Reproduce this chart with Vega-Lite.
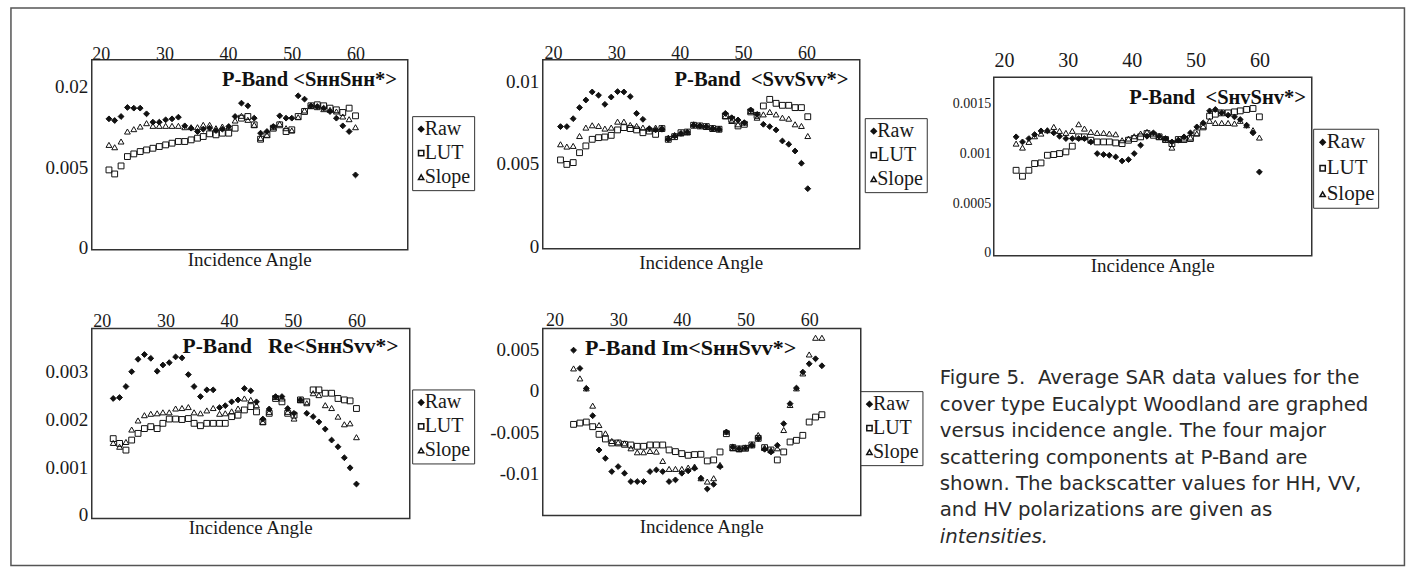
{
"$schema":"https://vega.github.io/schema/vega-lite/v6.json",
"background":"white",
"padding":{"left":9.75,"top":6.75,"right":4,"bottom":4},
"config":{
 "view":{"stroke":"#333","strokeWidth":1.5},
 "font":"Liberation Serif",
 "axis":{"grid":false,"domain":false,"ticks":false,"labelFont":"Liberation Serif","labelColor":"#1a1a1a","labelFontSize":19,"labelOverlap":false},
 "legend":{"orient":"none","strokeColor":"#333","padding":3,"labelFont":"Liberation Serif","labelFontSize":20,"labelColor":"#1a1a1a","symbolSize":28,"rowPadding":4,"labelOffset":-6.5,"symbolOffset":-4,"fillColor":"white"},
 "title":{"font":"Liberation Serif","fontSize":19,"fontWeight":"normal","color":"#1a1a1a"}
},
"datasets":{
"p1":[
{"s":"Raw","a":21.3,"v":0.01334},{"s":"Raw","a":22.2,"v":0.013},{"s":"Raw","a":23.2,"v":0.01382},{"s":"Raw","a":24.2,"v":0.01576},{"s":"Raw","a":25.2,"v":0.01561},{"s":"Raw","a":26.2,"v":0.01561},{"s":"Raw","a":27.2,"v":0.01438},{"s":"Raw","a":28.2,"v":0.01267},{"s":"Raw","a":29.2,"v":0.01267},{"s":"Raw","a":30.2,"v":0.01314},{"s":"Raw","a":31.2,"v":0.01334},{"s":"Raw","a":32.2,"v":0.01368},{"s":"Raw","a":33.2,"v":0.01195},{"s":"Raw","a":34.2,"v":0.0115},{"s":"Raw","a":35.2,"v":0.01088},{"s":"Raw","a":36.1,"v":0.01132},{"s":"Raw","a":37.1,"v":0.0115},{"s":"Raw","a":38.1,"v":0.01107},{"s":"Raw","a":39.1,"v":0.01132},{"s":"Raw","a":40.1,"v":0.01182},{"s":"Raw","a":41.1,"v":0.01382},{"s":"Raw","a":42.1,"v":0.01673},{"s":"Raw","a":43.1,"v":0.01613},{"s":"Raw","a":44.1,"v":0.01348},{"s":"Raw","a":45.1,"v":0.01058},{"s":"Raw","a":46.1,"v":0.01088},{"s":"Raw","a":47.1,"v":0.01182},{"s":"Raw","a":48.1,"v":0.01396},{"s":"Raw","a":49.1,"v":0.01348},{"s":"Raw","a":50.0,"v":0.01348},{"s":"Raw","a":51.0,"v":0.01845},{"s":"Raw","a":52.0,"v":0.01766},{"s":"Raw","a":53.0,"v":0.01613},{"s":"Raw","a":54.0,"v":0.01598},{"s":"Raw","a":55.0,"v":0.01561},{"s":"Raw","a":56.0,"v":0.01488},{"s":"Raw","a":57.0,"v":0.01348},{"s":"Raw","a":58.0,"v":0.01195},{"s":"Raw","a":59.0,"v":0.01088},{"s":"Raw","a":60.0,"v":0.00436},
{"s":"LUT","a":21.3,"v":0.00496},{"s":"LUT","a":22.2,"v":0.00447},{"s":"LUT","a":23.2,"v":0.00547},{"s":"LUT","a":24.2,"v":0.00676},{"s":"LUT","a":25.2,"v":0.00715},{"s":"LUT","a":26.2,"v":0.00751},{"s":"LUT","a":27.2,"v":0.00776},{"s":"LUT","a":28.2,"v":0.00802},{"s":"LUT","a":29.2,"v":0.00829},{"s":"LUT","a":30.2,"v":0.00856},{"s":"LUT","a":31.2,"v":0.00884},{"s":"LUT","a":32.2,"v":0.00912},{"s":"LUT","a":33.2,"v":0.00912},{"s":"LUT","a":34.2,"v":0.0094},{"s":"LUT","a":35.2,"v":0.00969},{"s":"LUT","a":36.1,"v":0.00998},{"s":"LUT","a":37.1,"v":0.01046},{"s":"LUT","a":38.1,"v":0.01028},{"s":"LUT","a":39.1,"v":0.01058},{"s":"LUT","a":40.1,"v":0.01058},{"s":"LUT","a":41.1,"v":0.0115},{"s":"LUT","a":42.1,"v":0.01348},{"s":"LUT","a":43.1,"v":0.01382},{"s":"LUT","a":44.1,"v":0.01215},{"s":"LUT","a":45.1,"v":0.00951},{"s":"LUT","a":46.1,"v":0.01028},{"s":"LUT","a":47.1,"v":0.0115},{"s":"LUT","a":48.1,"v":0.01215},{"s":"LUT","a":49.1,"v":0.01088},{"s":"LUT","a":50.0,"v":0.0112},{"s":"LUT","a":51.0,"v":0.01382},{"s":"LUT","a":52.0,"v":0.01488},{"s":"LUT","a":53.0,"v":0.01613},{"s":"LUT","a":54.0,"v":0.01636},{"s":"LUT","a":55.0,"v":0.01613},{"s":"LUT","a":56.0,"v":0.01561},{"s":"LUT","a":57.0,"v":0.01524},{"s":"LUT","a":58.0,"v":0.01467},{"s":"LUT","a":59.0,"v":0.01561},{"s":"LUT","a":60.0,"v":0.01396},
{"s":"Slope","a":21.3,"v":0.00856},{"s":"Slope","a":22.2,"v":0.00818},{"s":"Slope","a":23.2,"v":0.00912},{"s":"Slope","a":24.2,"v":0.01088},{"s":"Slope","a":25.2,"v":0.01132},{"s":"Slope","a":26.2,"v":0.01182},{"s":"Slope","a":27.2,"v":0.01247},{"s":"Slope","a":28.2,"v":0.01195},{"s":"Slope","a":29.2,"v":0.01195},{"s":"Slope","a":30.2,"v":0.01195},{"s":"Slope","a":31.2,"v":0.01195},{"s":"Slope","a":32.2,"v":0.01195},{"s":"Slope","a":33.2,"v":0.01169},{"s":"Slope","a":34.2,"v":0.01169},{"s":"Slope","a":35.2,"v":0.01169},{"s":"Slope","a":36.1,"v":0.01215},{"s":"Slope","a":37.1,"v":0.01215},{"s":"Slope","a":38.1,"v":0.0115},{"s":"Slope","a":39.1,"v":0.01182},{"s":"Slope","a":40.1,"v":0.01169},{"s":"Slope","a":41.1,"v":0.013},{"s":"Slope","a":42.1,"v":0.01396},{"s":"Slope","a":43.1,"v":0.01314},{"s":"Slope","a":44.1,"v":0.01215},{"s":"Slope","a":45.1,"v":0.00969},{"s":"Slope","a":46.1,"v":0.01028},{"s":"Slope","a":47.1,"v":0.01169},{"s":"Slope","a":48.1,"v":0.01234},{"s":"Slope","a":49.1,"v":0.0115},{"s":"Slope","a":50.0,"v":0.01107},{"s":"Slope","a":51.0,"v":0.01368},{"s":"Slope","a":52.0,"v":0.0151},{"s":"Slope","a":53.0,"v":0.01613},{"s":"Slope","a":54.0,"v":0.01583},{"s":"Slope","a":55.0,"v":0.01539},{"s":"Slope","a":56.0,"v":0.01524},{"s":"Slope","a":57.0,"v":0.01488},{"s":"Slope","a":58.0,"v":0.01382},{"s":"Slope","a":59.0,"v":0.01327},{"s":"Slope","a":60.0,"v":0.01169}
],
"p2":[
{"s":"Raw","a":21.2,"v":0.0074},{"s":"Raw","a":22.2,"v":0.0074},{"s":"Raw","a":23.2,"v":0.00788},{"s":"Raw","a":24.2,"v":0.00855},{"s":"Raw","a":25.2,"v":0.00901},{"s":"Raw","a":26.2,"v":0.0095},{"s":"Raw","a":27.2,"v":0.0093},{"s":"Raw","a":28.2,"v":0.00875},{"s":"Raw","a":29.2,"v":0.00919},{"s":"Raw","a":30.2,"v":0.00952},{"s":"Raw","a":31.2,"v":0.0095},{"s":"Raw","a":32.2,"v":0.00922},{"s":"Raw","a":33.2,"v":0.0082},{"s":"Raw","a":34.2,"v":0.00784},{"s":"Raw","a":35.2,"v":0.00728},{"s":"Raw","a":36.2,"v":0.0072},{"s":"Raw","a":37.2,"v":0.00724},{"s":"Raw","a":38.2,"v":0.00663},{"s":"Raw","a":39.2,"v":0.00683},{"s":"Raw","a":40.2,"v":0.00699},{"s":"Raw","a":41.2,"v":0.00707},{"s":"Raw","a":42.2,"v":0.00748},{"s":"Raw","a":43.2,"v":0.00744},{"s":"Raw","a":44.2,"v":0.0074},{"s":"Raw","a":45.2,"v":0.00728},{"s":"Raw","a":46.2,"v":0.00724},{"s":"Raw","a":47.2,"v":0.0082},{"s":"Raw","a":48.2,"v":0.00794},{"s":"Raw","a":49.2,"v":0.0078},{"s":"Raw","a":50.2,"v":0.00764},{"s":"Raw","a":51.2,"v":0.00841},{"s":"Raw","a":52.2,"v":0.00814},{"s":"Raw","a":53.2,"v":0.00754},{"s":"Raw","a":54.2,"v":0.0074},{"s":"Raw","a":55.2,"v":0.0072},{"s":"Raw","a":56.2,"v":0.00653},{"s":"Raw","a":57.2,"v":0.00633},{"s":"Raw","a":58.2,"v":0.00592},{"s":"Raw","a":59.2,"v":0.00518},{"s":"Raw","a":60.2,"v":0.00364},
{"s":"LUT","a":21.2,"v":0.00538},{"s":"LUT","a":22.2,"v":0.00511},{"s":"LUT","a":23.2,"v":0.00522},{"s":"LUT","a":24.2,"v":0.00582},{"s":"LUT","a":25.2,"v":0.00623},{"s":"LUT","a":26.2,"v":0.00663},{"s":"LUT","a":27.2,"v":0.00673},{"s":"LUT","a":28.2,"v":0.00677},{"s":"LUT","a":29.2,"v":0.00687},{"s":"LUT","a":30.2,"v":0.0072},{"s":"LUT","a":31.2,"v":0.00734},{"s":"LUT","a":32.2,"v":0.00728},{"s":"LUT","a":33.2,"v":0.0072},{"s":"LUT","a":34.2,"v":0.00703},{"s":"LUT","a":35.2,"v":0.00713},{"s":"LUT","a":36.2,"v":0.00693},{"s":"LUT","a":37.2,"v":0.00728},{"s":"LUT","a":38.2,"v":0.00663},{"s":"LUT","a":39.2,"v":0.00679},{"s":"LUT","a":40.2,"v":0.00703},{"s":"LUT","a":41.2,"v":0.00707},{"s":"LUT","a":42.2,"v":0.00748},{"s":"LUT","a":43.2,"v":0.00744},{"s":"LUT","a":44.2,"v":0.0074},{"s":"LUT","a":45.2,"v":0.00728},{"s":"LUT","a":46.2,"v":0.00724},{"s":"LUT","a":47.2,"v":0.00804},{"s":"LUT","a":48.2,"v":0.00784},{"s":"LUT","a":49.2,"v":0.00744},{"s":"LUT","a":50.2,"v":0.00754},{"s":"LUT","a":51.2,"v":0.00829},{"s":"LUT","a":52.2,"v":0.00808},{"s":"LUT","a":53.2,"v":0.00865},{"s":"LUT","a":54.2,"v":0.00905},{"s":"LUT","a":55.2,"v":0.00881},{"s":"LUT","a":56.2,"v":0.00869},{"s":"LUT","a":57.2,"v":0.00869},{"s":"LUT","a":58.2,"v":0.00855},{"s":"LUT","a":59.2,"v":0.00855},{"s":"LUT","a":60.2,"v":0.008},
{"s":"Slope","a":21.2,"v":0.00633},{"s":"Slope","a":22.2,"v":0.00619},{"s":"Slope","a":23.2,"v":0.00623},{"s":"Slope","a":24.2,"v":0.00683},{"s":"Slope","a":25.2,"v":0.00734},{"s":"Slope","a":26.2,"v":0.00748},{"s":"Slope","a":27.2,"v":0.00744},{"s":"Slope","a":28.2,"v":0.00728},{"s":"Slope","a":29.2,"v":0.00734},{"s":"Slope","a":30.2,"v":0.0077},{"s":"Slope","a":31.2,"v":0.0077},{"s":"Slope","a":32.2,"v":0.0075},{"s":"Slope","a":33.2,"v":0.00744},{"s":"Slope","a":34.2,"v":0.00734},{"s":"Slope","a":35.2,"v":0.00728},{"s":"Slope","a":36.2,"v":0.00734},{"s":"Slope","a":37.2,"v":0.00734},{"s":"Slope","a":38.2,"v":0.00673},{"s":"Slope","a":39.2,"v":0.00689},{"s":"Slope","a":40.2,"v":0.00699},{"s":"Slope","a":41.2,"v":0.00707},{"s":"Slope","a":42.2,"v":0.00754},{"s":"Slope","a":43.2,"v":0.00748},{"s":"Slope","a":44.2,"v":0.0074},{"s":"Slope","a":45.2,"v":0.00734},{"s":"Slope","a":46.2,"v":0.00728},{"s":"Slope","a":47.2,"v":0.00804},{"s":"Slope","a":48.2,"v":0.00774},{"s":"Slope","a":49.2,"v":0.00754},{"s":"Slope","a":50.2,"v":0.00764},{"s":"Slope","a":51.2,"v":0.00835},{"s":"Slope","a":52.2,"v":0.00794},{"s":"Slope","a":53.2,"v":0.00814},{"s":"Slope","a":54.2,"v":0.00829},{"s":"Slope","a":55.2,"v":0.00814},{"s":"Slope","a":56.2,"v":0.00794},{"s":"Slope","a":57.2,"v":0.00788},{"s":"Slope","a":58.2,"v":0.00754},{"s":"Slope","a":59.2,"v":0.00744},{"s":"Slope","a":60.2,"v":0.00683}
],
"p3":[
{"s":"Raw","a":21.9,"v":0.001195},{"s":"Raw","a":22.9,"v":0.001144},{"s":"Raw","a":23.9,"v":0.001178},{"s":"Raw","a":24.8,"v":0.001218},{"s":"Raw","a":25.8,"v":0.001255},{"s":"Raw","a":26.8,"v":0.001255},{"s":"Raw","a":27.8,"v":0.001235},{"s":"Raw","a":28.7,"v":0.001201},{"s":"Raw","a":29.7,"v":0.001178},{"s":"Raw","a":30.7,"v":0.001178},{"s":"Raw","a":31.7,"v":0.001178},{"s":"Raw","a":32.6,"v":0.001178},{"s":"Raw","a":33.6,"v":0.001144},{"s":"Raw","a":34.6,"v":0.001027},{"s":"Raw","a":35.6,"v":0.001017},{"s":"Raw","a":36.5,"v":0.00101},{"s":"Raw","a":37.5,"v":0.000993},{"s":"Raw","a":38.5,"v":0.000953},{"s":"Raw","a":39.5,"v":0.000966},{"s":"Raw","a":40.4,"v":0.001027},{"s":"Raw","a":41.4,"v":0.001111},{"s":"Raw","a":42.4,"v":0.001201},{"s":"Raw","a":43.4,"v":0.001235},{"s":"Raw","a":44.3,"v":0.001201},{"s":"Raw","a":45.3,"v":0.001178},{"s":"Raw","a":46.3,"v":0.001144},{"s":"Raw","a":47.3,"v":0.001161},{"s":"Raw","a":48.2,"v":0.001195},{"s":"Raw","a":49.2,"v":0.001235},{"s":"Raw","a":50.2,"v":0.001295},{"s":"Raw","a":51.2,"v":0.001335},{"s":"Raw","a":52.2,"v":0.001456},{"s":"Raw","a":53.1,"v":0.00147},{"s":"Raw","a":54.1,"v":0.001436},{"s":"Raw","a":55.1,"v":0.001413},{"s":"Raw","a":56.1,"v":0.001396},{"s":"Raw","a":57.0,"v":0.001369},{"s":"Raw","a":58.0,"v":0.001312},{"s":"Raw","a":59.0,"v":0.001235},{"s":"Raw","a":60.0,"v":0.000842},
{"s":"LUT","a":21.9,"v":0.000859},{"s":"LUT","a":22.9,"v":0.000799},{"s":"LUT","a":23.9,"v":0.000859},{"s":"LUT","a":24.8,"v":0.000926},{"s":"LUT","a":25.8,"v":0.000933},{"s":"LUT","a":26.8,"v":0.00101},{"s":"LUT","a":27.8,"v":0.001017},{"s":"LUT","a":28.7,"v":0.001027},{"s":"LUT","a":29.7,"v":0.001044},{"s":"LUT","a":30.7,"v":0.001101},{"s":"LUT","a":31.7,"v":0.001195},{"s":"LUT","a":32.6,"v":0.001195},{"s":"LUT","a":33.6,"v":0.001161},{"s":"LUT","a":34.6,"v":0.001144},{"s":"LUT","a":35.6,"v":0.001144},{"s":"LUT","a":36.5,"v":0.001144},{"s":"LUT","a":37.5,"v":0.001134},{"s":"LUT","a":38.5,"v":0.001127},{"s":"LUT","a":39.5,"v":0.001161},{"s":"LUT","a":40.4,"v":0.001178},{"s":"LUT","a":41.4,"v":0.001195},{"s":"LUT","a":42.4,"v":0.001228},{"s":"LUT","a":43.4,"v":0.001211},{"s":"LUT","a":44.3,"v":0.001195},{"s":"LUT","a":45.3,"v":0.001168},{"s":"LUT","a":46.3,"v":0.001127},{"s":"LUT","a":47.3,"v":0.001168},{"s":"LUT","a":48.2,"v":0.001168},{"s":"LUT","a":49.2,"v":0.001178},{"s":"LUT","a":50.2,"v":0.001235},{"s":"LUT","a":51.2,"v":0.001295},{"s":"LUT","a":52.2,"v":0.001403},{"s":"LUT","a":53.1,"v":0.001423},{"s":"LUT","a":54.1,"v":0.001436},{"s":"LUT","a":55.1,"v":0.001436},{"s":"LUT","a":56.1,"v":0.001446},{"s":"LUT","a":57.0,"v":0.001456},{"s":"LUT","a":58.0,"v":0.00147},{"s":"LUT","a":59.0,"v":0.00148},{"s":"LUT","a":60.0,"v":0.001396},
{"s":"Slope","a":21.9,"v":0.001127},{"s":"Slope","a":22.9,"v":0.001087},{"s":"Slope","a":23.9,"v":0.001144},{"s":"Slope","a":24.8,"v":0.001201},{"s":"Slope","a":25.8,"v":0.001228},{"s":"Slope","a":26.8,"v":0.001262},{"s":"Slope","a":27.8,"v":0.001295},{"s":"Slope","a":28.7,"v":0.001255},{"s":"Slope","a":29.7,"v":0.001235},{"s":"Slope","a":30.7,"v":0.001255},{"s":"Slope","a":31.7,"v":0.001322},{"s":"Slope","a":32.6,"v":0.001278},{"s":"Slope","a":33.6,"v":0.001245},{"s":"Slope","a":34.6,"v":0.001235},{"s":"Slope","a":35.6,"v":0.001235},{"s":"Slope","a":36.5,"v":0.001228},{"s":"Slope","a":37.5,"v":0.001221},{"s":"Slope","a":38.5,"v":0.001161},{"s":"Slope","a":39.5,"v":0.001178},{"s":"Slope","a":40.4,"v":0.001201},{"s":"Slope","a":41.4,"v":0.001228},{"s":"Slope","a":42.4,"v":0.001245},{"s":"Slope","a":43.4,"v":0.001228},{"s":"Slope","a":44.3,"v":0.001195},{"s":"Slope","a":45.3,"v":0.001168},{"s":"Slope","a":46.3,"v":0.001087},{"s":"Slope","a":47.3,"v":0.001168},{"s":"Slope","a":48.2,"v":0.001178},{"s":"Slope","a":49.2,"v":0.001188},{"s":"Slope","a":50.2,"v":0.001228},{"s":"Slope","a":51.2,"v":0.001302},{"s":"Slope","a":52.2,"v":0.001356},{"s":"Slope","a":53.1,"v":0.001335},{"s":"Slope","a":54.1,"v":0.001335},{"s":"Slope","a":55.1,"v":0.001335},{"s":"Slope","a":56.1,"v":0.001329},{"s":"Slope","a":57.0,"v":0.001356},{"s":"Slope","a":58.0,"v":0.001312},{"s":"Slope","a":59.0,"v":0.001262},{"s":"Slope","a":60.0,"v":0.001188}
],
"p4":[
{"s":"Raw","a":21.8,"v":0.00251},{"s":"Raw","a":22.8,"v":0.00253},{"s":"Raw","a":23.8,"v":0.00276},{"s":"Raw","a":24.7,"v":0.00307},{"s":"Raw","a":25.7,"v":0.00333},{"s":"Raw","a":26.7,"v":0.00343},{"s":"Raw","a":27.7,"v":0.00335},{"s":"Raw","a":28.7,"v":0.00308},{"s":"Raw","a":29.6,"v":0.00321},{"s":"Raw","a":30.6,"v":0.00326},{"s":"Raw","a":31.6,"v":0.00338},{"s":"Raw","a":32.6,"v":0.00336},{"s":"Raw","a":33.6,"v":0.00301},{"s":"Raw","a":34.5,"v":0.00276},{"s":"Raw","a":35.5,"v":0.00255},{"s":"Raw","a":36.5,"v":0.00269},{"s":"Raw","a":37.5,"v":0.00269},{"s":"Raw","a":38.5,"v":0.00232},{"s":"Raw","a":39.4,"v":0.00236},{"s":"Raw","a":40.4,"v":0.00244},{"s":"Raw","a":41.4,"v":0.00248},{"s":"Raw","a":42.4,"v":0.00272},{"s":"Raw","a":43.4,"v":0.00267},{"s":"Raw","a":44.3,"v":0.00244},{"s":"Raw","a":45.3,"v":0.00208},{"s":"Raw","a":46.3,"v":0.00229},{"s":"Raw","a":47.3,"v":0.00255},{"s":"Raw","a":48.3,"v":0.00255},{"s":"Raw","a":49.2,"v":0.0023},{"s":"Raw","a":50.2,"v":0.0022},{"s":"Raw","a":51.2,"v":0.00248},{"s":"Raw","a":52.2,"v":0.0022},{"s":"Raw","a":53.2,"v":0.00213},{"s":"Raw","a":54.1,"v":0.00202},{"s":"Raw","a":55.1,"v":0.00187},{"s":"Raw","a":56.1,"v":0.00164},{"s":"Raw","a":57.1,"v":0.0015},{"s":"Raw","a":58.1,"v":0.00127},{"s":"Raw","a":59.0,"v":0.00106},{"s":"Raw","a":60.0,"v":0.00072},
{"s":"LUT","a":21.8,"v":0.00167},{"s":"LUT","a":22.8,"v":0.00157},{"s":"LUT","a":23.8,"v":0.00143},{"s":"LUT","a":24.7,"v":0.00164},{"s":"LUT","a":25.7,"v":0.00178},{"s":"LUT","a":26.7,"v":0.00188},{"s":"LUT","a":27.7,"v":0.00192},{"s":"LUT","a":28.7,"v":0.00188},{"s":"LUT","a":29.6,"v":0.00199},{"s":"LUT","a":30.6,"v":0.00208},{"s":"LUT","a":31.6,"v":0.00208},{"s":"LUT","a":32.6,"v":0.00207},{"s":"LUT","a":33.6,"v":0.00209},{"s":"LUT","a":34.5,"v":0.00199},{"s":"LUT","a":35.5,"v":0.00194},{"s":"LUT","a":36.5,"v":0.00199},{"s":"LUT","a":37.5,"v":0.00199},{"s":"LUT","a":38.5,"v":0.00199},{"s":"LUT","a":39.4,"v":0.00199},{"s":"LUT","a":40.4,"v":0.00213},{"s":"LUT","a":41.4,"v":0.00216},{"s":"LUT","a":42.4,"v":0.00227},{"s":"LUT","a":43.4,"v":0.00234},{"s":"LUT","a":44.3,"v":0.00223},{"s":"LUT","a":45.3,"v":0.00202},{"s":"LUT","a":46.3,"v":0.0022},{"s":"LUT","a":47.3,"v":0.00251},{"s":"LUT","a":48.3,"v":0.00244},{"s":"LUT","a":49.2,"v":0.0022},{"s":"LUT","a":50.2,"v":0.00216},{"s":"LUT","a":51.2,"v":0.00248},{"s":"LUT","a":52.2,"v":0.00244},{"s":"LUT","a":53.2,"v":0.00269},{"s":"LUT","a":54.1,"v":0.00269},{"s":"LUT","a":55.1,"v":0.00262},{"s":"LUT","a":56.1,"v":0.00262},{"s":"LUT","a":57.1,"v":0.00251},{"s":"LUT","a":58.1,"v":0.00248},{"s":"LUT","a":59.0,"v":0.00246},{"s":"LUT","a":60.0,"v":0.0023},
{"s":"Slope","a":21.8,"v":0.00158},{"s":"Slope","a":22.8,"v":0.0015},{"s":"Slope","a":23.8,"v":0.0016},{"s":"Slope","a":24.7,"v":0.00186},{"s":"Slope","a":25.7,"v":0.00205},{"s":"Slope","a":26.7,"v":0.00216},{"s":"Slope","a":27.7,"v":0.00219},{"s":"Slope","a":28.7,"v":0.0022},{"s":"Slope","a":29.6,"v":0.00222},{"s":"Slope","a":30.6,"v":0.00222},{"s":"Slope","a":31.6,"v":0.0023},{"s":"Slope","a":32.6,"v":0.00231},{"s":"Slope","a":33.6,"v":0.00233},{"s":"Slope","a":34.5,"v":0.00222},{"s":"Slope","a":35.5,"v":0.0022},{"s":"Slope","a":36.5,"v":0.00226},{"s":"Slope","a":37.5,"v":0.00231},{"s":"Slope","a":38.5,"v":0.00219},{"s":"Slope","a":39.4,"v":0.0022},{"s":"Slope","a":40.4,"v":0.00224},{"s":"Slope","a":41.4,"v":0.0023},{"s":"Slope","a":42.4,"v":0.00251},{"s":"Slope","a":43.4,"v":0.00248},{"s":"Slope","a":44.3,"v":0.00237},{"s":"Slope","a":45.3,"v":0.00202},{"s":"Slope","a":46.3,"v":0.00223},{"s":"Slope","a":47.3,"v":0.00254},{"s":"Slope","a":48.3,"v":0.00251},{"s":"Slope","a":49.2,"v":0.00223},{"s":"Slope","a":50.2,"v":0.00209},{"s":"Slope","a":51.2,"v":0.00248},{"s":"Slope","a":52.2,"v":0.00241},{"s":"Slope","a":53.2,"v":0.00262},{"s":"Slope","a":54.1,"v":0.00258},{"s":"Slope","a":55.1,"v":0.00237},{"s":"Slope","a":56.1,"v":0.00231},{"s":"Slope","a":57.1,"v":0.00213},{"s":"Slope","a":58.1,"v":0.00197},{"s":"Slope","a":59.0,"v":0.00199},{"s":"Slope","a":60.0,"v":0.0017}
],
"p5":[
{"s":"Raw","a":23,"v":0.00489},{"s":"Raw","a":24,"v":0.00269},{"s":"Raw","a":25,"v":0.00029},{"s":"Raw","a":26,"v":-0.003},{"s":"Raw","a":27,"v":-0.00712},{"s":"Raw","a":28,"v":-0.00812},{"s":"Raw","a":29,"v":-0.00972},{"s":"Raw","a":30,"v":-0.00912},{"s":"Raw","a":31,"v":-0.00992},{"s":"Raw","a":32,"v":-0.01092},{"s":"Raw","a":33,"v":-0.01092},{"s":"Raw","a":34,"v":-0.01092},{"s":"Raw","a":35,"v":-0.00972},{"s":"Raw","a":36,"v":-0.00952},{"s":"Raw","a":37,"v":-0.00972},{"s":"Raw","a":38,"v":-0.01092},{"s":"Raw","a":39,"v":-0.01072},{"s":"Raw","a":40,"v":-0.00992},{"s":"Raw","a":41,"v":-0.00964},{"s":"Raw","a":42,"v":-0.00932},{"s":"Raw","a":43,"v":-0.01052},{"s":"Raw","a":44,"v":-0.01181},{"s":"Raw","a":45,"v":-0.01125},{"s":"Raw","a":46,"v":-0.00912},{"s":"Raw","a":47,"v":-0.00496},{"s":"Raw","a":48,"v":-0.00676},{"s":"Raw","a":49,"v":-0.00696},{"s":"Raw","a":50,"v":-0.00688},{"s":"Raw","a":51,"v":-0.00656},{"s":"Raw","a":52,"v":-0.00576},{"s":"Raw","a":53,"v":-0.00704},{"s":"Raw","a":54,"v":-0.00736},{"s":"Raw","a":55,"v":-0.00656},{"s":"Raw","a":56,"v":-0.00396},{"s":"Raw","a":57,"v":-0.00155},{"s":"Raw","a":58,"v":0.00033},{"s":"Raw","a":59,"v":0.00225},{"s":"Raw","a":60,"v":0.00325},{"s":"Raw","a":61,"v":0.00385},{"s":"Raw","a":62,"v":0.00301},
{"s":"LUT","a":23,"v":-0.00404},{"s":"LUT","a":24,"v":-0.00388},{"s":"LUT","a":25,"v":-0.00376},{"s":"LUT","a":26,"v":-0.00432},{"s":"LUT","a":27,"v":-0.00524},{"s":"LUT","a":28,"v":-0.0058},{"s":"LUT","a":29,"v":-0.00628},{"s":"LUT","a":30,"v":-0.00628},{"s":"LUT","a":31,"v":-0.00644},{"s":"LUT","a":32,"v":-0.00652},{"s":"LUT","a":33,"v":-0.00668},{"s":"LUT","a":34,"v":-0.00668},{"s":"LUT","a":35,"v":-0.00652},{"s":"LUT","a":36,"v":-0.00652},{"s":"LUT","a":37,"v":-0.00652},{"s":"LUT","a":38,"v":-0.00712},{"s":"LUT","a":39,"v":-0.00732},{"s":"LUT","a":40,"v":-0.00756},{"s":"LUT","a":41,"v":-0.00776},{"s":"LUT","a":42,"v":-0.00768},{"s":"LUT","a":43,"v":-0.00764},{"s":"LUT","a":44,"v":-0.00844},{"s":"LUT","a":45,"v":-0.00832},{"s":"LUT","a":46,"v":-0.00736},{"s":"LUT","a":47,"v":-0.00516},{"s":"LUT","a":48,"v":-0.00684},{"s":"LUT","a":49,"v":-0.007},{"s":"LUT","a":50,"v":-0.00692},{"s":"LUT","a":51,"v":-0.00652},{"s":"LUT","a":52,"v":-0.00572},{"s":"LUT","a":53,"v":-0.00684},{"s":"LUT","a":54,"v":-0.00712},{"s":"LUT","a":55,"v":-0.00832},{"s":"LUT","a":56,"v":-0.00736},{"s":"LUT","a":57,"v":-0.00616},{"s":"LUT","a":58,"v":-0.00596},{"s":"LUT","a":59,"v":-0.00536},{"s":"LUT","a":60,"v":-0.00376},{"s":"LUT","a":61,"v":-0.00316},{"s":"LUT","a":62,"v":-0.00288},
{"s":"Slope","a":23,"v":0.00269},{"s":"Slope","a":24,"v":0.00149},{"s":"Slope","a":25,"v":0.00029},{"s":"Slope","a":26,"v":-0.00179},{"s":"Slope","a":27,"v":-0.00412},{"s":"Slope","a":28,"v":-0.00512},{"s":"Slope","a":29,"v":-0.00604},{"s":"Slope","a":30,"v":-0.0062},{"s":"Slope","a":31,"v":-0.00632},{"s":"Slope","a":32,"v":-0.00692},{"s":"Slope","a":33,"v":-0.0074},{"s":"Slope","a":34,"v":-0.0074},{"s":"Slope","a":35,"v":-0.00724},{"s":"Slope","a":36,"v":-0.00732},{"s":"Slope","a":37,"v":-0.00844},{"s":"Slope","a":38,"v":-0.0094},{"s":"Slope","a":39,"v":-0.0094},{"s":"Slope","a":40,"v":-0.0094},{"s":"Slope","a":41,"v":-0.00924},{"s":"Slope","a":42,"v":-0.00912},{"s":"Slope","a":43,"v":-0.01052},{"s":"Slope","a":44,"v":-0.01092},{"s":"Slope","a":45,"v":-0.01052},{"s":"Slope","a":46,"v":-0.00892},{"s":"Slope","a":47,"v":-0.00492},{"s":"Slope","a":48,"v":-0.00692},{"s":"Slope","a":49,"v":-0.007},{"s":"Slope","a":50,"v":-0.00684},{"s":"Slope","a":51,"v":-0.00644},{"s":"Slope","a":52,"v":-0.00532},{"s":"Slope","a":53,"v":-0.00684},{"s":"Slope","a":54,"v":-0.00712},{"s":"Slope","a":55,"v":-0.00692},{"s":"Slope","a":56,"v":-0.00472},{"s":"Slope","a":57,"v":-0.00171},{"s":"Slope","a":58,"v":0.00029},{"s":"Slope","a":59,"v":0.00209},{"s":"Slope","a":60,"v":0.00437},{"s":"Slope","a":61,"v":0.00638},{"s":"Slope","a":62,"v":0.00638}
]
},
"columns":3,
"bounds":"flush",
"spacing":{"row":72.7,"column":133},
"resolve":{"scale":{"x":"independent","y":"independent","fill":"independent","shape":"independent"},"legend":{"fill":"independent","shape":"independent"}},
"concat":[
{
 "width":316,"height":190,
 "data":{"name":"p1"},
 "title":{"text":"Incidence Angle","orient":"bottom","anchor":"middle","frame":"group","baseline":"top","offset":-6},
 "layer":[
  {"mark":{"type":"point","filled":true,"size":34,"stroke":"#111","strokeWidth":1,"opacity":1},
   "encoding":{
    "x":{"field":"a","type":"quantitative","scale":{"domain":[18.6,68.2],"nice":false,"zero":false},"axis":{"title":null,"orient":"top","values":[20,30,40,50,60],"format":"d","labelPadding":-4,"labelFontSize":18}},
    "y":{"field":"v","type":"quantitative","scale":{"type":"sqrt","domain":[0,0.0281],"nice":false},"axis":{"title":null,"values":[0,0.005,0.02],"format":"~g","labelPadding":4,"labelOffset":-2.5}},
    "fill":{"field":"s","type":"nominal","scale":{"domain":["Raw","LUT","Slope"],"range":["#111","transparent","transparent"]},"legend":{"title":null,"legendX":320.4,"legendY":56.4,"encode":{"symbols":{"update":{"stroke":{"value":"#111"},"strokeWidth":{"value":1}}}}}},
    "shape":{"field":"s","type":"nominal","scale":{"domain":["Raw","LUT","Slope"],"range":["diamond","square","triangle-up"]},"legend":{"title":null,"legendX":320.4,"legendY":56.4,"encode":{"symbols":{"update":{"stroke":{"value":"#111"},"strokeWidth":{"value":1}}}}}}
   }},
  {"data":{"values":[{}]},"mark":{"type":"text","align":"right","baseline":"alphabetic","font":"Liberation Serif","fontWeight":"bold","fontSize":20.5,"color":"#111","text":"P-Band <SʜʜSʜʜ*>"},
   "encoding":{"x":{"datum":66.5},"y":{"datum":0.0209}}}
 ]
},
{
 "width":317,"height":189,
 "data":{"name":"p2"},
 "title":{"text":"Incidence Angle","orient":"bottom","anchor":"middle","frame":"group","baseline":"top","offset":-2.5},
 "layer":[
  {"mark":{"type":"point","filled":true,"size":34,"stroke":"#111","strokeWidth":1,"opacity":1},
   "encoding":{
    "x":{"field":"a","type":"quantitative","scale":{"domain":[18.4,68.4],"nice":false,"zero":false},"axis":{"title":null,"orient":"top","values":[20,30,40,50,60],"format":"d","labelPadding":-2.5,"labelFontSize":18}},
    "y":{"field":"v","type":"quantitative","scale":{"domain":[0,0.01145],"nice":false},"axis":{"title":null,"values":[0,0.005,0.01],"format":"~g","labelPadding":4,"labelOffset":-2.5}},
    "fill":{"field":"s","type":"nominal","scale":{"domain":["Raw","LUT","Slope"],"range":["#111","transparent","transparent"]},"legend":{"title":null,"legendX":322,"legendY":58.4,"encode":{"symbols":{"update":{"stroke":{"value":"#111"},"strokeWidth":{"value":1}}}}}},
    "shape":{"field":"s","type":"nominal","scale":{"domain":["Raw","LUT","Slope"],"range":["diamond","square","triangle-up"]},"legend":{"title":null,"legendX":322,"legendY":58.4,"encode":{"symbols":{"update":{"stroke":{"value":"#111"},"strokeWidth":{"value":1}}}}}}
   }},
  {"data":{"values":[{}]},"mark":{"type":"text","align":"right","baseline":"alphabetic","font":"Liberation Serif","fontWeight":"bold","fontSize":20.5,"color":"#111","text":"P-Band\u00a0 <SᴠᴠSᴠᴠ*>"},
   "encoding":{"x":{"datum":66.6},"y":{"datum":0.00986}}}
 ]
},
{
 "width":318,"height":196,
 "view":{"stroke":null},
 "data":{"name":"p3"},
 "title":{"text":"Incidence Angle","orient":"bottom","anchor":"middle","frame":"group","baseline":"top","offset":-3},
 "layer":[
  {"mark":{"type":"point","filled":true,"size":34,"stroke":"#111","strokeWidth":1,"opacity":1},
   "encoding":{
    "x":{"field":"a","type":"quantitative","scale":{"domain":[18.4,68.2],"nice":false,"zero":false},"axis":{"title":null,"orient":"top","offset":-17.4,"values":[20,30,40,50,60],"format":"d","labelPadding":7,"labelFontSize":20}},
    "y":{"field":"v","type":"quantitative","scale":{"domain":[0,0.001795],"range":[196,17.4],"nice":false},"axis":{"title":null,"values":[0,0.0005,0.001,0.0015],"format":"~g","labelPadding":3,"labelOffset":-3,"labelFontSize":14}},
    "fill":{"field":"s","type":"nominal","scale":{"domain":["Raw","LUT","Slope"],"range":["#111","transparent","transparent"]},"legend":{"title":null,"legendX":319.4,"legendY":69,"labelFontSize":21,"encode":{"symbols":{"update":{"stroke":{"value":"#111"},"strokeWidth":{"value":1}}}}}},
    "shape":{"field":"s","type":"nominal","scale":{"domain":["Raw","LUT","Slope"],"range":["diamond","square","triangle-up"]},"legend":{"title":null,"legendX":319.4,"legendY":69,"labelFontSize":21,"encode":{"symbols":{"update":{"stroke":{"value":"#111"},"strokeWidth":{"value":1}}}}}}
   }},
  {"data":{"values":[{}]},"mark":{"type":"rect","fill":"transparent","stroke":"#333","strokeWidth":1.5},
   "encoding":{"x":{"datum":18.4},"x2":{"datum":68.2},"y":{"datum":0},"y2":{"datum":0.001795}}},
  {"data":{"values":[{}]},"mark":{"type":"text","align":"right","baseline":"alphabetic","font":"Liberation Serif","fontWeight":"bold","fontSize":20.5,"color":"#111","text":"P-Band\u00a0 <SʜᴠSʜᴠ*>"},
   "encoding":{"x":{"datum":67.3},"y":{"datum":0.00153}}}
 ]
},
{
 "width":318,"height":190,
 "data":{"name":"p4"},
 "title":{"text":"Incidence Angle","orient":"bottom","anchor":"middle","frame":"group","baseline":"top","offset":-6},
 "layer":[
  {"mark":{"type":"point","filled":true,"size":34,"stroke":"#111","strokeWidth":1,"opacity":1},
   "encoding":{
    "x":{"field":"a","type":"quantitative","scale":{"domain":[18.43,68.37],"nice":false,"zero":false},"axis":{"title":null,"orient":"top","values":[20,30,40,50,60],"format":"d","labelPadding":-2.5,"labelFontSize":18}},
    "y":{"field":"v","type":"quantitative","scale":{"domain":[0,0.003975],"nice":false},"axis":{"title":null,"values":[0,0.001,0.002,0.003],"format":"~g","labelPadding":4,"labelOffset":-3.5}},
    "fill":{"field":"s","type":"nominal","scale":{"domain":["Raw","LUT","Slope"],"range":["#111","transparent","transparent"]},"legend":{"title":null,"legendX":320.4,"legendY":61,"encode":{"symbols":{"update":{"stroke":{"value":"#111"},"strokeWidth":{"value":1}}}}}},
    "shape":{"field":"s","type":"nominal","scale":{"domain":["Raw","LUT","Slope"],"range":["diamond","square","triangle-up"]},"legend":{"title":null,"legendX":320.4,"legendY":61,"encode":{"symbols":{"update":{"stroke":{"value":"#111"},"strokeWidth":{"value":1}}}}}}
   }},
  {"data":{"values":[{}]},"mark":{"type":"text","align":"right","baseline":"alphabetic","font":"Liberation Serif","fontWeight":"bold","fontSize":21.5,"color":"#111","text":"P-Band\u00a0\u00a0 Re<SʜʜSᴠᴠ*>"},
   "encoding":{"x":{"datum":66.6},"y":{"datum":0.00346}}}
 ]
},
{
 "width":318,"height":187,
 "data":{"name":"p5"},
 "title":{"text":"Incidence Angle","orient":"bottom","anchor":"middle","frame":"group","baseline":"top","offset":3},
 "layer":[
  {"mark":{"type":"point","filled":true,"size":34,"stroke":"#111","strokeWidth":1,"opacity":1},
   "encoding":{
    "x":{"field":"a","type":"quantitative","scale":{"domain":[18.16,68.1],"nice":false,"zero":false},"axis":{"title":null,"orient":"top","values":[20,30,40,50,60],"format":"d","labelPadding":-1,"labelFontSize":18}},
    "y":{"field":"v","type":"quantitative","scale":{"domain":[-0.015,0.0075],"nice":false,"zero":false},"axis":{"title":null,"values":[-0.01,-0.005,0,0.005],"format":"~g","labelExpr":"replace(datum.label, '−', '-')","labelPadding":4}},
    "fill":{"field":"s","type":"nominal","scale":{"domain":["Raw","LUT","Slope"],"range":["#111","transparent","transparent"]},"legend":{"title":null,"legendX":317.7,"legendY":62.7,"encode":{"symbols":{"update":{"stroke":{"value":"#111"},"strokeWidth":{"value":1}}}}}},
    "shape":{"field":"s","type":"nominal","scale":{"domain":["Raw","LUT","Slope"],"range":["diamond","square","triangle-up"]},"legend":{"title":null,"legendX":317.7,"legendY":62.7,"encode":{"symbols":{"update":{"stroke":{"value":"#111"},"strokeWidth":{"value":1}}}}}}
   }},
  {"data":{"values":[{}]},"mark":{"type":"text","align":"right","baseline":"alphabetic","font":"Liberation Serif","fontWeight":"bold","fontSize":22,"color":"#111","text":"P-Band Im<SʜʜSᴠᴠ*>"},
   "encoding":{"x":{"datum":57.96},"y":{"datum":0.00425}}}
 ]
},
{
 "width":318,"height":190,
 "view":{"stroke":null},
 "data":{"values":[{}]},
 "mark":{"type":"rect","fill":"transparent","stroke":"#555","strokeWidth":1.5},
 "encoding":{
  "x":{"datum":0,"type":"quantitative","scale":{"domain":[0,1],"range":[-982.8,410.7]},"axis":null},
  "x2":{"datum":1},
  "y":{"datum":0,"type":"quantitative","scale":{"domain":[0,1],"range":[237,-320.5]},"axis":null},
  "y2":{"datum":1}
 },
 "title":{"text":["Figure 5.\u00a0 Average SAR data values for the","cover type Eucalypt Woodland are graphed","versus incidence angle. The four major","scattering components at P-Band are","shown. The backscatter values for HH, VV,","and HV polarizations are given as"],"subtitle":"intensities.","orient":"bottom","anchor":"start","frame":"group","align":"left","baseline":"top","offset":-197.75,"dx":-54,"font":"DejaVu Sans","fontSize":19.8,"fontWeight":"normal","color":"#2a2a2a","lineHeight":26.4,"subtitleFont":"DejaVu Sans","subtitleFontSize":19.8,"subtitleFontStyle":"italic","subtitleColor":"#2a2a2a","subtitleLineHeight":26.4,"subtitlePadding":7}
}
]
}
